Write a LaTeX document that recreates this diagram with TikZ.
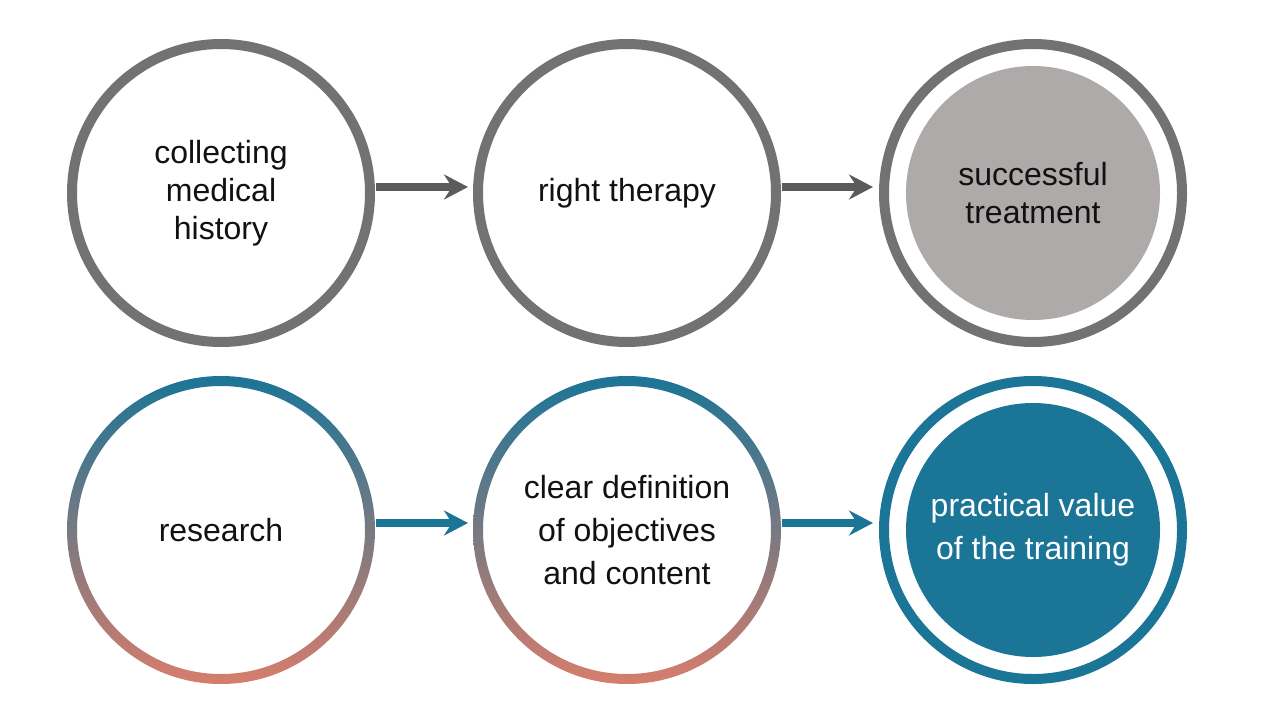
\documentclass[tikz,border=0pt]{standalone}
\usepackage{fontspec}
\setmainfont{Liberation Sans}
\usetikzlibrary{arrows.meta}
\definecolor{ringgray}{HTML}{747171}
\definecolor{arrgray}{HTML}{5B5B5B}
\definecolor{fillgray}{HTML}{ADAAA9}
\definecolor{teal}{HTML}{1B7597}
\definecolor{midc}{HTML}{677A8B}
\definecolor{salmon}{HTML}{D67D6C}
\definecolor{txt}{HTML}{111111}
\begin{document}
\begin{tikzpicture}[x=1pt,y=-1pt,
  ringnode/.style={circle,inner sep=0pt,outer sep=0pt,minimum size=298pt,align=center,
    font=\fontsize{32}{38}\selectfont,text=txt},
  grayring/.style={ringnode,draw=ringgray,line width=10pt},
  tealring/.style={ringnode,draw=teal,line width=10pt,font=\fontsize{32}{43}\selectfont},
  plainring/.style={ringnode,font=\fontsize{32}{43}\selectfont},
  arr/.style={line width=7.5pt,-{Stealth[length=24pt,width=25pt,inset=8pt]}},
  grayarr/.style={arr,draw=arrgray},
  tealarr/.style={arr,draw=teal}]
\useasboundingbox (0,0) rectangle (1280,720);
\fill[white] (0,0) rectangle (1280,720);
% top row
\node[grayring] (a1) at (221,193) {collecting\\medical\\history};
\node[grayring] (a2) at (627,193) {right therapy};
\fill[fillgray] (1033,193) circle[radius=127pt];
\node[grayring] (a3) at (1033,193) {successful\\treatment};
% bottom row
\shade[top color=teal,middle color=midc,bottom color=salmon,even odd rule]
  (221,530) circle[radius=154pt] (221,530) circle[radius=144pt];
\shade[top color=teal,middle color=midc,bottom color=salmon,even odd rule]
  (627,530) circle[radius=154pt] (627,530) circle[radius=144pt];
\node[plainring] (b1) at (221,530) {research};
\node[plainring] (b2) at (627,530) {clear definition\\of objectives\\and content};
\fill[teal] (1033,530) circle[radius=127pt];
\node[tealring,text=white] (b3) at (1033,530) {practical value\\of the training};
% arrows
\draw[grayarr] ([xshift=6pt,yshift=6pt]a1.east) -- ([xshift=-10pt,yshift=6pt]a2.west);
\draw[grayarr] ([xshift=6pt,yshift=6pt]a2.east) -- ([xshift=-11pt,yshift=6pt]a3.west);
\draw[tealarr] ([xshift=6pt,yshift=7pt]b1.east) -- ([xshift=-10pt,yshift=7pt]b2.west);
\draw[tealarr] ([xshift=6pt,yshift=7pt]b2.east) -- ([xshift=-11pt,yshift=7pt]b3.west);
\end{tikzpicture}
\end{document}
